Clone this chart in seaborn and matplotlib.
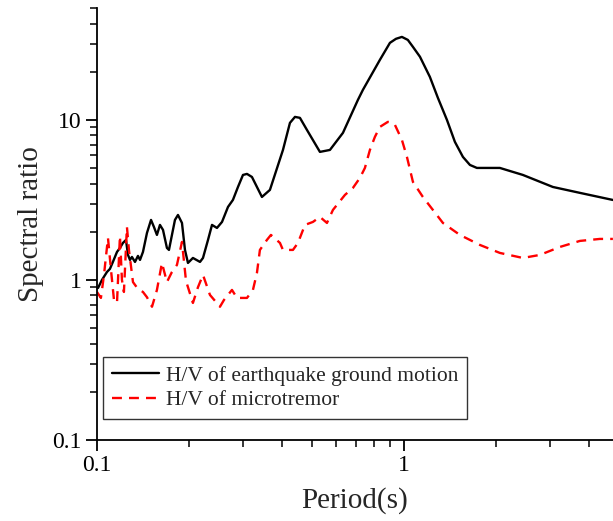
import numpy as np
import pandas as pd
import matplotlib
matplotlib.use("Agg")
import matplotlib.pyplot as plt
import matplotlib.ticker as mticker
import seaborn as sns

# --- datos ---
period_eq = [0.1008, 0.1038, 0.1078, 0.1102, 0.1127, 0.1162, 0.1188, 0.1215, 0.1243, 0.1262,
             0.1281, 0.1300, 0.1330, 0.1360, 0.1381, 0.1412, 0.1455, 0.1500, 0.1533, 0.1568,
             0.1604, 0.1641, 0.1690, 0.1716, 0.1755, 0.1795, 0.1836, 0.1892, 0.1935, 0.1979,
             0.2054, 0.2166, 0.2215, 0.2300, 0.2370, 0.2460, 0.2555, 0.2672, 0.2773, 0.2880,
             0.2990, 0.3081, 0.3198, 0.3447, 0.3660, 0.4036, 0.4253, 0.4416, 0.4584, 0.4831,
             0.5326, 0.5741, 0.6330, 0.7083, 0.7352, 0.8351, 0.9005, 0.942, 0.985, 1.030,
             1.070, 1.128, 1.215, 1.291, 1.381, 1.466, 1.557, 1.641, 1.729, 2.054,
             2.441, 3.057, 3.744, 4.796]
ratio_eq = [0.891, 1.0, 1.122, 1.172, 1.296, 1.496, 1.585, 1.703, 1.778, 1.433,
            1.334, 1.392, 1.296, 1.413, 1.334, 1.496, 1.966, 2.371, 2.144, 1.911,
            2.207, 2.054, 1.585, 1.540, 1.911, 2.371, 2.547, 2.270, 1.540, 1.277,
            1.372, 1.296, 1.372, 1.778, 2.207, 2.113, 2.304, 2.858, 3.162, 3.811,
            4.529, 4.597, 4.40, 3.30, 3.652, 6.49, 9.58, 10.44, 10.3, 8.66,
            6.31, 6.49, 8.30, 13.34, 15.40, 23.71, 30.3, 32.1, 33.0, 31.6,
            28.6, 24.8, 18.57, 13.7, 10.0, 7.29, 5.87, 5.23, 5.01, 5.01,
            4.53, 3.81, 3.50, 3.16]

period_mt = [0.1000, 0.1030, 0.1054, 0.1086, 0.1111, 0.1136, 0.1162, 0.1188, 0.1206, 0.1224,
             0.1252, 0.1271, 0.1310, 0.1360, 0.1412, 0.1455, 0.1511, 0.1568, 0.1628, 0.1690,
             0.1755, 0.1822, 0.1892, 0.1950, 0.2054, 0.2133, 0.2215, 0.2334, 0.2516, 0.2593,
             0.2753, 0.2858, 0.3081, 0.3222, 0.3320, 0.3395, 0.3578, 0.3688, 0.3946, 0.4036,
             0.4350, 0.4516, 0.4760, 0.5054, 0.5326, 0.5614, 0.5872, 0.6425, 0.6822, 0.7189,
             0.7464, 0.7749, 0.8044, 0.8351, 0.8867, 0.907, 0.9348, 0.9851, 1.023, 1.070, 1.153,
             1.243, 1.340, 1.522, 1.768, 2.054, 2.441, 2.773, 3.222, 3.744, 4.350, 4.796]
ratio_mt = [0.841, 0.772, 1.075, 1.83, 1.155, 0.75, 0.718, 1.884, 1.0, 0.841,
            2.144, 1.54, 0.97, 0.878, 0.841, 0.78, 0.68, 0.866, 1.277, 0.97,
            1.122, 1.241, 1.728, 0.986, 0.718, 0.90, 1.075, 0.806, 0.68, 0.75,
            0.866, 0.772, 0.772, 0.866, 1.106, 1.54, 1.778, 1.911, 1.703, 1.54,
            1.54, 1.703, 2.207, 2.304, 2.477, 2.270, 2.738, 3.398, 3.758, 4.34,
            5.01, 6.49, 7.83, 9.04, 9.72, 9.65, 9.31, 7.50, 5.87, 4.10, 3.30,
            2.738, 2.270, 1.911, 1.655, 1.475, 1.372, 1.433, 1.607, 1.753, 1.804, 1.804]

label_eq = "H/V of earthquake ground motion"
label_mt = "H/V of microtremor"

# --- estilo ---
sns.set_style("ticks")
plt.rcParams["font.family"] = "serif"
plt.rcParams["font.serif"] = ["Liberation Serif", "DejaVu Serif"]
plt.rcParams["mathtext.fontset"] = "stix"

fig = plt.figure(figsize=(6.13, 5.21), dpi=100)
ax = fig.add_axes([0.1582, 0.1555, 0.8418, 0.8291])

df_eq = pd.DataFrame({"Period": period_eq, "Ratio": ratio_eq})
df_mt = pd.DataFrame({"Period": period_mt, "Ratio": ratio_mt})

sns.lineplot(data=df_eq, x="Period", y="Ratio", ax=ax, color="black", lw=1.7,
             estimator=None, sort=False, label=label_eq)
sns.lineplot(data=df_mt, x="Period", y="Ratio", ax=ax, color="#ff0000", lw=1.7,
             estimator=None, sort=False, label=label_mt, linestyle="--")
ax.lines[1].set_dashes((4.2, 3.0))

ax.set_xscale("log")
ax.set_yscale("log")
ax.set_xlim(0.1, 4.8)
ax.set_ylim(0.1, 50)

fmt = mticker.FuncFormatter(lambda v, p: f"{v:g}")
ax.xaxis.set_major_formatter(fmt)
ax.yaxis.set_major_formatter(fmt)
ax.xaxis.set_minor_formatter(mticker.NullFormatter())
ax.yaxis.set_minor_formatter(mticker.NullFormatter())
ax.xaxis.set_major_locator(mticker.LogLocator(base=10))
ax.xaxis.set_minor_locator(mticker.LogLocator(base=10, subs=np.arange(2, 10)))
ax.yaxis.set_minor_locator(mticker.LogLocator(base=10, subs=np.arange(2, 10)))

sns.despine(ax=ax, top=True, right=True)
for s in ["left", "bottom"]:
    ax.spines[s].set_linewidth(1.3)
    ax.spines[s].set_color("black")
ax.tick_params(which="major", direction="out", length=8, width=1.3, labelsize=17,
               colors="black", pad=3)
ax.tick_params(which="minor", direction="out", length=5, width=1.1, colors="black")

ax.set_xlabel("Period(s)", fontsize=21, labelpad=8)
ax.set_ylabel("Spectral ratio", fontsize=21, labelpad=6)

leg = ax.legend(loc="lower left", bbox_to_anchor=(0.012, 0.049), borderaxespad=0,
                fontsize=15.5, frameon=True, fancybox=False, edgecolor="black",
                handlelength=2.2, handletextpad=0.3, labelspacing=0.2, borderpad=0.4)
leg.get_frame().set_linewidth(1.0)

fig.savefig("out.png", dpi=100, facecolor="white")
